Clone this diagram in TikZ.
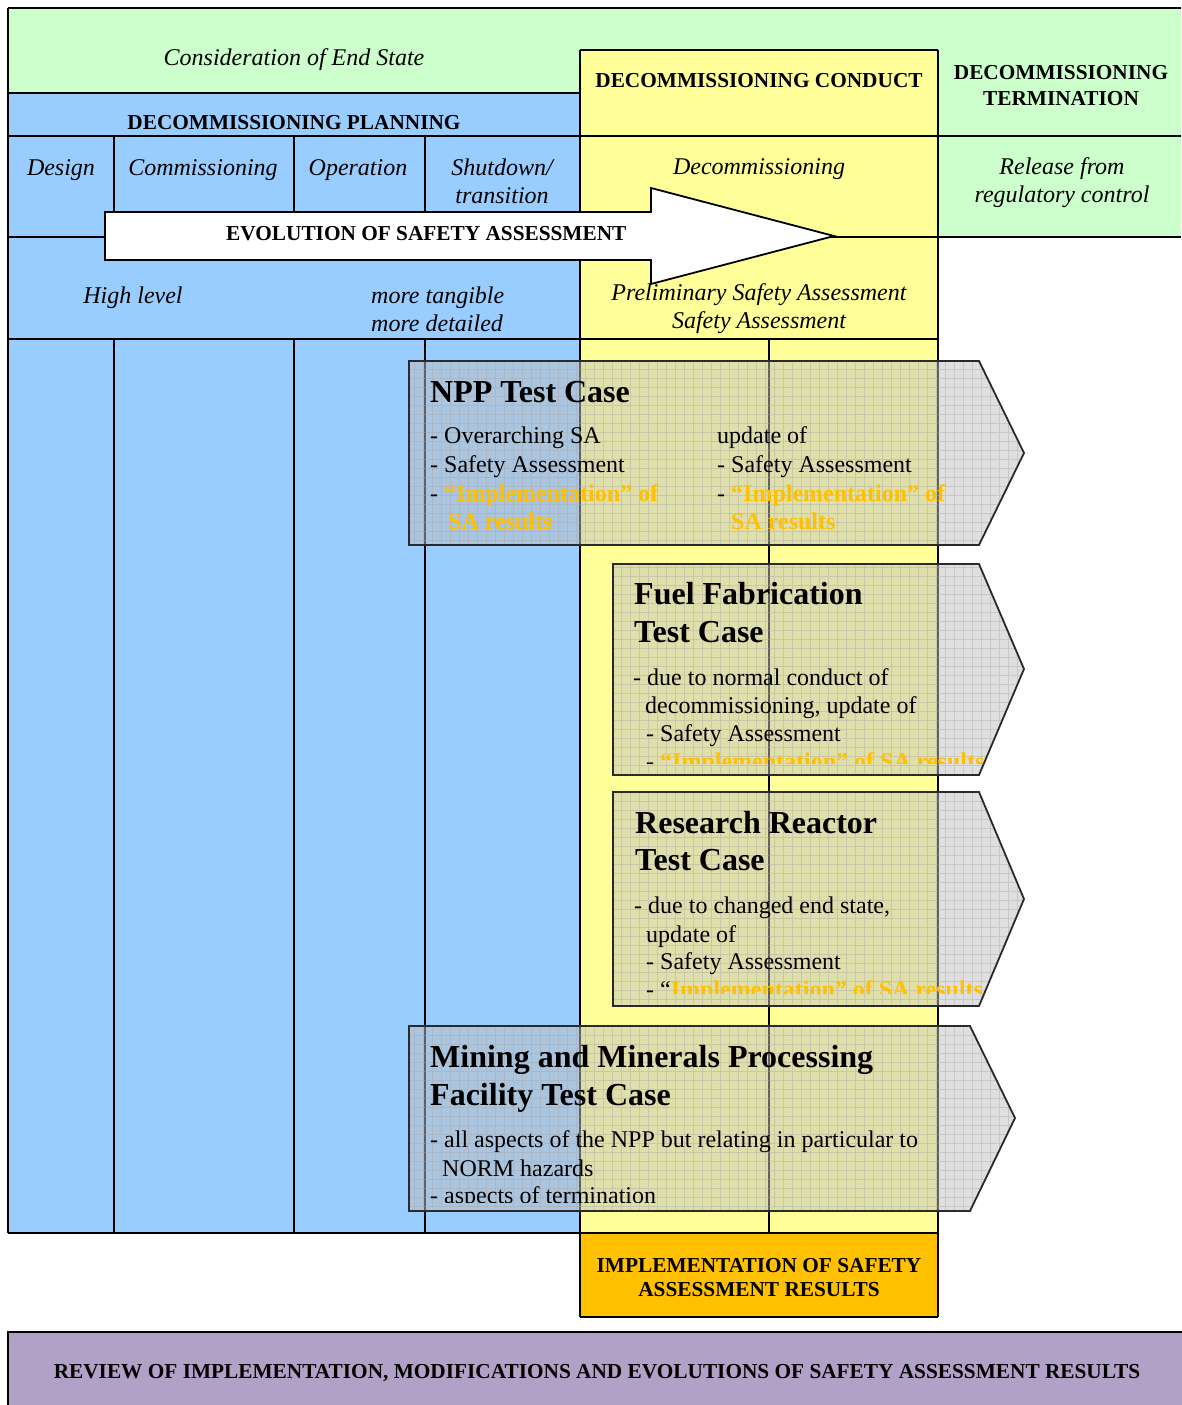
\documentclass[tikz,border=0pt]{standalone}
\usepackage{fontspec}
\setmainfont{Liberation Serif}
\definecolor{cgreen}{HTML}{CCFFCC}
\definecolor{cblue}{HTML}{99CCFF}
\definecolor{cyellow}{HTML}{FFFF99}
\definecolor{corange}{HTML}{FFC000}
\definecolor{cpurple}{HTML}{B2A1C7}
\definecolor{ctext}{HTML}{FFC000}
\definecolor{tcgray}{HTML}{C0C0C0}
\definecolor{tcline}{HTML}{2A2A2A}
\newcommand{\orb}[1]{\textcolor{ctext}{\bfseries #1}}
\begin{document}
\begin{tikzpicture}[x=1pt,y=-1pt,line join=miter]
\tikzset{
  tline/.style={line width=1.8pt, draw=black},
  hdr/.style={font=\fontsize{21.3}{25}\selectfont\bfseries, inner sep=0pt, anchor=base},
  itl/.style={font=\fontsize{24}{28}\selectfont\itshape, inner sep=0pt, anchor=base},
  itlw/.style={font=\fontsize{24}{28}\selectfont\itshape, inner sep=0pt, anchor=base west},
  body/.style={font=\fontsize{24}{29}\selectfont, inner sep=0pt, anchor=base west},
  ttl/.style={font=\fontsize{32}{38}\selectfont\bfseries, inner sep=0pt, anchor=base west},
  tcfill/.style={fill=tcgray, fill opacity=0.5},
  tcgrid/.style={draw=gray!70, line width=0.6pt, opacity=0.4},
  tcborder/.style={draw=tcline, line width=1.8pt},
  arrowbox/.style={fill=white, draw=black, line width=1.8pt}
}
\useasboundingbox (0,0) rectangle (1181,1405);

% ---- background fills
\fill[cgreen] (8,8) rectangle (580,93);
\fill[cgreen] (580,8) rectangle (938,50);
\fill[cgreen] (938,8) rectangle (1181,237);
\fill[cblue] (8,93) rectangle (580,1233);
\fill[cyellow] (580,50) rectangle (938,1233);
\fill[corange] (580,1233) rectangle (938,1317);
\fill[cpurple] (8,1332) rectangle (1190,1415);

% ---- table lines
\draw[tline] (8,8) -- (1181,8);
\draw[tline] (8,8) -- (8,1233);
\draw[tline] (8,93) -- (580,93);
\draw[tline] (8,136) -- (1181,136);
\draw[tline] (580,50) -- (938,50);
\draw[tline] (580,50) -- (580,1317);
\draw[tline] (938,50) -- (938,1317);
\draw[tline] (8,237) -- (1181,237);
\draw[tline] (8,339) -- (938,339);
\draw[tline] (8,1233) -- (938,1233);
\draw[tline] (580,1317) -- (938,1317);
\foreach \xx in {114,294,425} {
  \draw[tline] (\xx,136) -- (\xx,237);
  \draw[tline] (\xx,339) -- (\xx,1233);
}
\draw[tline] (769,339) -- (769,1233);
\draw[line width=2.6pt] (1190,1332) -- (8,1332) -- (8,1415);

% ---- header texts
\node[itl] (endstate) at (294,66) {Consideration of End State};
\node[hdr] (planning) at (294,129) {DECOMMISSIONING PLANNING};
\node[hdr] (conduct) at (759,88) {DECOMMISSIONING CONDUCT};
\node[hdr] (termA) at (1061,79) {DECOMMISSIONING};
\node[hdr] (termB) at (1061,105) {TERMINATION};
\node[itl] (design) at (61,175) {Design};
\node[itl] (commiss) at (203,175) {Commissioning};
\node[itl] (operation) at (358,175) {Operation};
\node[itl] (shutA) at (502,175) {Shutdown/};
\node[itl] (shutB) at (502,203) {transition};
\node[itl] (decomm) at (759,174) {Decommissioning};
\node[itl] (releaseA) at (1062,174) {Release from};
\node[itl] (releaseB) at (1062,202) {regulatory control};
\node[itl] (highlevel) at (133,303) {High level};
\node[itlw] (tangible) at (371,303) {more tangible};
\node[itlw] (detailed) at (371,331) {more detailed};
\node[itl] (prelimA) at (759,300) {Preliminary Safety Assessment};
\node[itl] (prelimB) at (759,328) {Safety Assessment};

% ---- evolution arrow
\draw[arrowbox] (105,212) -- (651,212) -- (651,188) -- (834,236) -- (651,284) -- (651,260) -- (105,260) -- cycle;
\node[hdr, anchor=base west] (evolution) at (226,240) {EVOLUTION OF SAFETY ASSESSMENT};

% ---- NPP test case
\def\npp{(409,361) -- (979,361) -- (1024,453) -- (979,545) -- (409,545) -- cycle}
\fill[tcfill] \npp;
\begin{scope}
  \clip \npp;
  \draw[tcgrid, step=9pt] (400,350) grid (1040,560);
  \node[ttl] (nppT) at (430,402) {NPP Test Case};
  \node[body] (nppA) at (430,443) {- Overarching SA};
  \node[body] (nppB) at (430,472) {- Safety Assessment};
  \node[body] (nppC) at (430,501) {- \orb{“Implementation” of}};
  \node[body] (nppD) at (448,529) {\orb{SA results}};
  \node[body] (nppE) at (717,443) {update of};
  \node[body] (nppF) at (717,472) {- Safety Assessment};
  \node[body] (nppG) at (717,501) {- \orb{“Implementation” of}};
  \node[body] (nppH) at (731,529) {\orb{SA results}};
\end{scope}
\draw[tcborder] \npp;

% ---- Fuel fabrication test case
\def\fuel{(613,564) -- (979,564) -- (1024,669) -- (979,775) -- (613,775) -- cycle}
\fill[tcfill] \fuel;
\begin{scope}
  \clip \fuel;
  \draw[tcgrid, step=9pt] (600,550) grid (1040,790);
  \clip (600,550) rectangle (1040,763);
  \node[ttl] (fuelT1) at (634,604) {Fuel Fabrication};
  \node[ttl] (fuelT2) at (634,642) {Test Case};
  \node[body] (fuelA) at (633,685) {- due to normal conduct of};
  \node[body] (fuelB) at (645,713) {decommissioning, update of};
  \node[body] (fuelC) at (646,741) {- Safety Assessment};
  \node[body] (fuelD) at (646,769) {- \orb{“Implementation” of SA results}};
\end{scope}
\draw[tcborder] \fuel;

% ---- Research reactor test case
\def\rr{(613,792) -- (979,792) -- (1024,899) -- (979,1006) -- (613,1006) -- cycle}
\fill[tcfill] \rr;
\begin{scope}
  \clip \rr;
  \draw[tcgrid, step=9pt] (600,780) grid (1040,1020);
  \clip (600,780) rectangle (1040,993);
  \node[ttl] (rrT1) at (635,833) {Research Reactor};
  \node[ttl] (rrT2) at (635,870) {Test Case};
  \node[body] (rrA) at (634,913) {- due to changed end state,};
  \node[body] (rrB) at (646,942) {update of};
  \node[body] (rrC) at (646,969) {- Safety Assessment};
  \node[body] (rrD) at (646,997) {- “\orb{Implementation” of SA results}};
\end{scope}
\draw[tcborder] \rr;

% ---- Mining test case
\def\mine{(409,1026) -- (970,1026) -- (1015,1118) -- (970,1211) -- (409,1211) -- cycle}
\fill[tcfill] \mine;
\begin{scope}
  \clip \mine;
  \draw[tcgrid, step=9pt] (400,1015) grid (1040,1225);
  \clip (400,1015) rectangle (1040,1202);
  \node[ttl] (minT1) at (430,1067) {Mining and Minerals Processing};
  \node[ttl] (minT2) at (430,1105) {Facility Test Case};
  \node[body] (minA) at (430,1147) {- all aspects of the NPP but relating in particular to};
  \node[body] (minB) at (442,1176) {NORM hazards};
  \node[body] (minC) at (430,1203) {- aspects of termination};
\end{scope}
\draw[tcborder] \mine;

% ---- bottom boxes
\node[hdr] (implA) at (759,1272) {IMPLEMENTATION OF SAFETY};
\node[hdr] (implB) at (759,1296) {ASSESSMENT RESULTS};
\node[hdr] (review) at (597,1378) {REVIEW OF IMPLEMENTATION, MODIFICATIONS AND EVOLUTIONS OF SAFETY ASSESSMENT RESULTS};
\end{tikzpicture}
\end{document}
